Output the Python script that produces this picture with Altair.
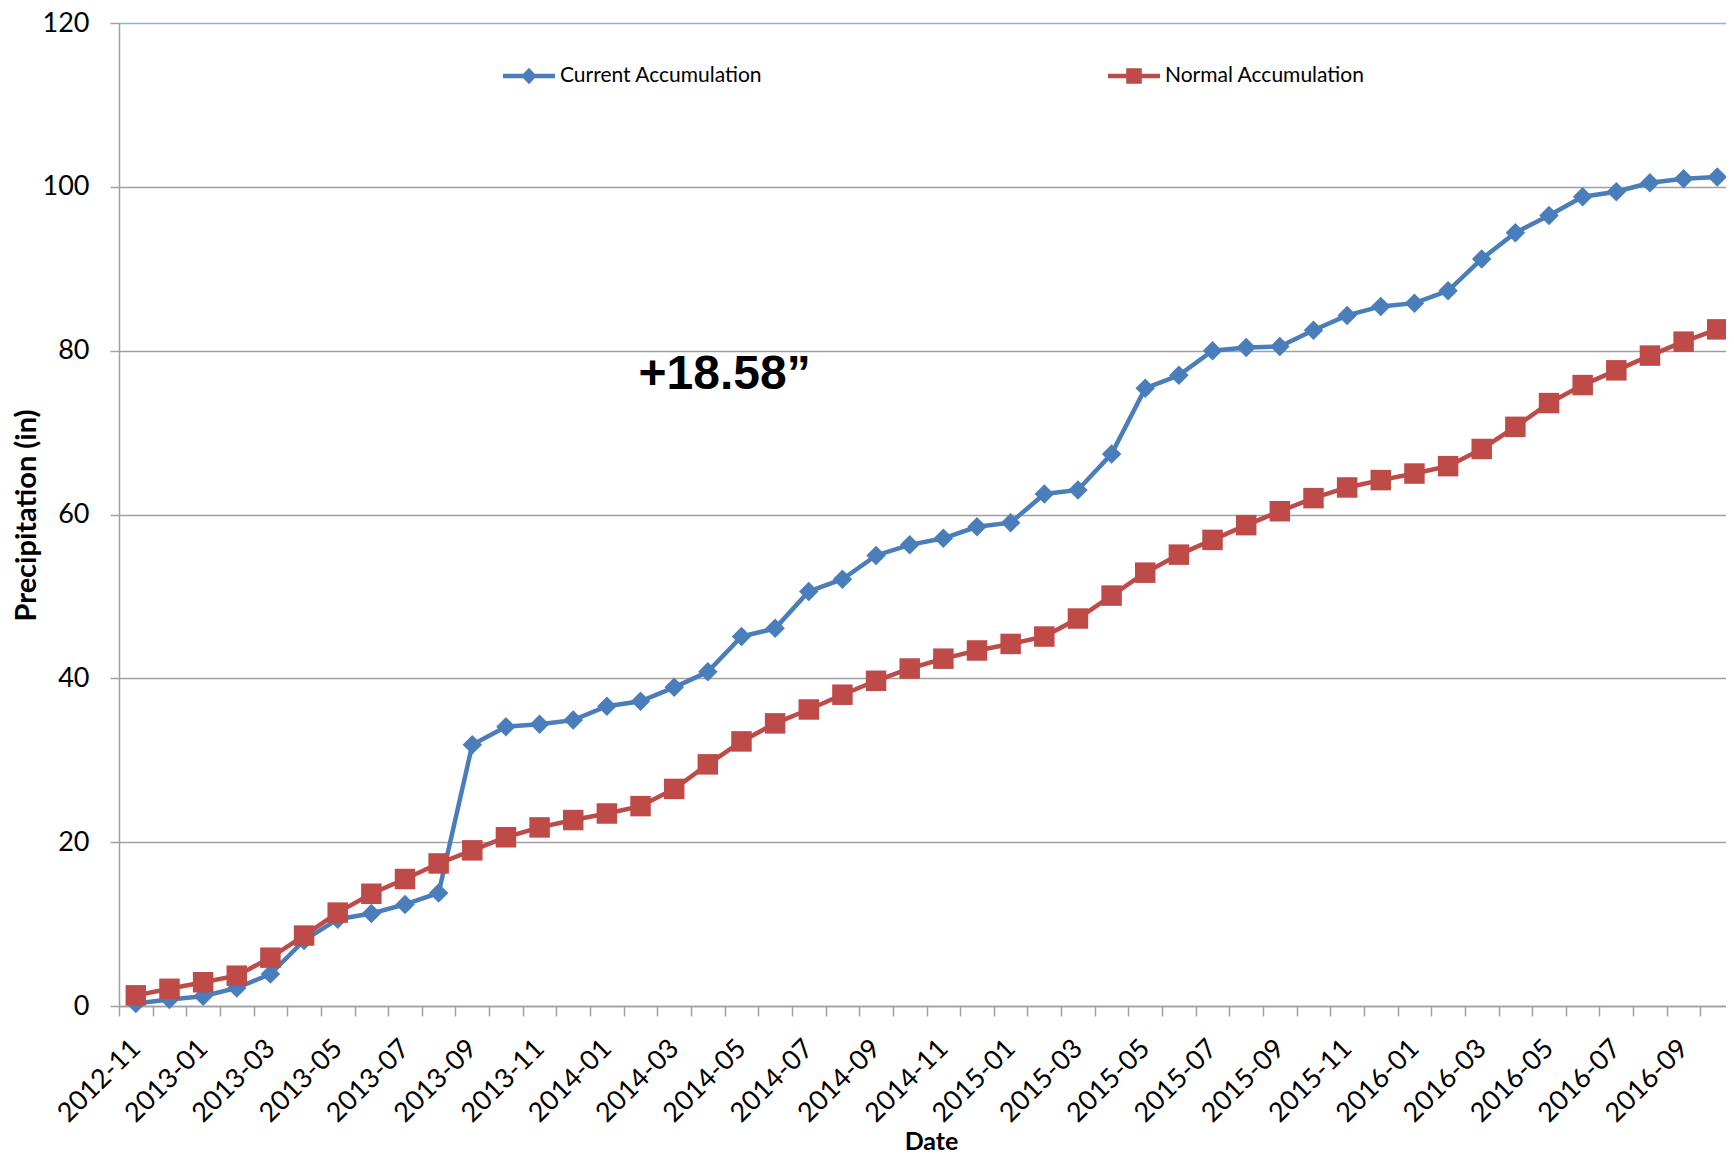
import altair as alt
import pandas as pd

months = [
    "2012-11", "2012-12",
    "2013-01", "2013-02", "2013-03", "2013-04", "2013-05", "2013-06",
    "2013-07", "2013-08", "2013-09", "2013-10", "2013-11", "2013-12",
    "2014-01", "2014-02", "2014-03", "2014-04", "2014-05", "2014-06",
    "2014-07", "2014-08", "2014-09", "2014-10", "2014-11", "2014-12",
    "2015-01", "2015-02", "2015-03", "2015-04", "2015-05", "2015-06",
    "2015-07", "2015-08", "2015-09", "2015-10", "2015-11", "2015-12",
    "2016-01", "2016-02", "2016-03", "2016-04", "2016-05", "2016-06",
    "2016-07", "2016-08", "2016-09", "2016-10",
]
current = [0.3, 0.8, 1.2, 2.2, 3.9, 8.0, 10.6, 11.3, 12.4, 13.8,
           31.9, 34.1, 34.4, 34.9, 36.6, 37.2, 38.9, 40.8, 45.1, 46.1,
           50.6, 52.1, 55.0, 56.3, 57.1, 58.5, 59.0, 62.5, 63.0, 67.4,
           75.4, 77.0, 80.0, 80.4, 80.5, 82.5, 84.3, 85.4, 85.8, 87.3,
           91.2, 94.4, 96.5, 98.8, 99.4, 100.5, 101.0, 101.2]
normal = [1.3, 2.1, 2.9, 3.7, 5.9, 8.6, 11.4, 13.7, 15.5, 17.4,
          19.0, 20.6, 21.8, 22.7, 23.5, 24.4, 26.5, 29.5, 32.3, 34.5,
          36.2, 38.0, 39.7, 41.2, 42.4, 43.4, 44.2, 45.1, 47.3, 50.1,
          52.9, 55.1, 56.9, 58.7, 60.4, 62.0, 63.3, 64.2, 65.0, 65.9,
          68.0, 70.7, 73.6, 75.8, 77.6, 79.4, 81.1, 82.6]
series_names = ["Current Accumulation", "Normal Accumulation"]
series_colors = ["#4a7ebb", "#be4b48"]
y_ticks = [0, 20, 40, 60, 80, 100, 120]
annotation_text = ["+18.58\u201d"]
annotation_x = [17.5]
annotation_y = [77.0]

idx = list(range(len(months)))
df_cur = pd.DataFrame({"i": idx, "month": months, "value": current, "series": series_names[0]})
df_nor = pd.DataFrame({"i": idx, "month": months, "value": normal, "series": series_names[1]})
df_all = pd.concat([df_cur, df_nor], ignore_index=True)
df_ann = pd.DataFrame({"x": annotation_x, "y": annotation_y, "t": annotation_text})

GRAY = "#a0a0a0"
FONT = "Lato"

boundaries = [k - 0.5 for k in range(len(months))]
label_array = "[" + ",".join("'" + m + "'" for m in months) + "]"
label_expr = f"((datum.value + 0.5) % 2 == 0) ? {label_array}[datum.value + 0.5] : ''"

x_scale = alt.Scale(domain=[-0.5, 47.26], nice=False, zero=False)
y_scale = alt.Scale(domain=[0, 120], nice=False, zero=True)

x_axis = alt.Axis(
    values=boundaries, labelExpr=label_expr, labelOverlap=False, labelFlush=False,
    labelAngle=315, labelAlign="right", labelBaseline="middle", labelOffset=16.8,
    labelPadding=28, labelFont=FONT, labelFontSize=27, labelColor="black",
    tickSize=10, tickColor=GRAY, tickWidth=1.5, domainColor=GRAY, domainWidth=1.5,
    grid=False, title="Date", titleFont=FONT, titleFontWeight="bold",
    titleFontSize=25, titleColor="black", titleX=812, titleY=135,
    titleAlign="center", titleBaseline="middle",
)
y_axis = alt.Axis(
    values=y_ticks, grid=True,
    gridColor={"condition": {"test": "datum.value == 120", "value": "#8db3e2"}, "value": GRAY},
    gridWidth=1.5, tickSize=9, tickColor=GRAY, tickWidth=1.5,
    domainColor=GRAY, domainWidth=1.5, labelPadding=21, labelFont=FONT,
    labelFontSize=27, labelColor="black",
    title="Precipitation (in)", titleFont=FONT, titleFontWeight="bold",
    titleFontSize=29, titleColor="black", titleX=-93, titleY=492,
    titleAngle=270, titleAlign="center", titleBaseline="middle",
)

x_enc = alt.X("i:Q", scale=x_scale, axis=x_axis)
y_enc = alt.Y("value:Q", scale=y_scale, axis=y_axis)

shapes_plot = ["diamond", "square"]
sizes_plot = [380, 420]

layers = []
for name, color, shp, sz in zip(series_names, series_colors, shapes_plot, sizes_plot):
    base = alt.Chart(df_all).transform_filter(alt.datum.series == name)
    layers.append(base.mark_line(color=color, strokeWidth=4.5).encode(x=x_enc, y=y_enc))
    layers.append(base.mark_point(filled=True, opacity=1, shape=shp, size=sz, color=color)
                  .encode(x=x_enc, y=y_enc))

ann = alt.Chart(df_ann).mark_text(
    font="Liberation Sans", fontWeight="bold", fontSize=48, color="black",
    align="center", baseline="middle",
).encode(x=alt.X("x:Q", scale=x_scale, axis=x_axis), y=alt.Y("y:Q", scale=y_scale, axis=y_axis), text="t:N")

legend_paths = [
    "M-1,-0.09L1,-0.09L1,0.09L-1,0.09Z M0,-0.32L0.3,0L0,0.32L-0.3,0Z",
    "M-1,-0.09L1,-0.09L1,0.09L-1,0.09Z M-0.3,-0.3L0.3,-0.3L0.3,0.3L-0.3,0.3Z",
]
legend_def = alt.Legend(
    orient="none", legendX=384, legendY=27, direction="horizontal",
    title=None, labelFont=FONT, labelFontSize=21, labelColor="black",
    labelOffset=5, labelLimit=600, columnPadding=345, symbolSize=2704, padding=0,
    symbolStrokeWidth=0, symbolOpacity=1,
)
legend_layer = alt.Chart(df_all).transform_filter("datum.value < 0").mark_point(
    filled=True, opacity=1, size=2704,
).encode(
    color=alt.Color("series:N", scale=alt.Scale(domain=series_names, range=series_colors), legend=legend_def),
    shape=alt.Shape("series:N", scale=alt.Scale(domain=series_names, range=legend_paths), legend=legend_def),
)

chart = alt.layer(*layers, ann, legend_layer).properties(
    width=1607, height=983,
    autosize=alt.AutoSizeParams(type="none"),
    padding={"left": 111, "top": 15, "right": 0, "bottom": 148},
    background="white",
).configure_view(stroke=None)

chart.save("out.html", embed_options={"renderer": "svg", "actions": False})
